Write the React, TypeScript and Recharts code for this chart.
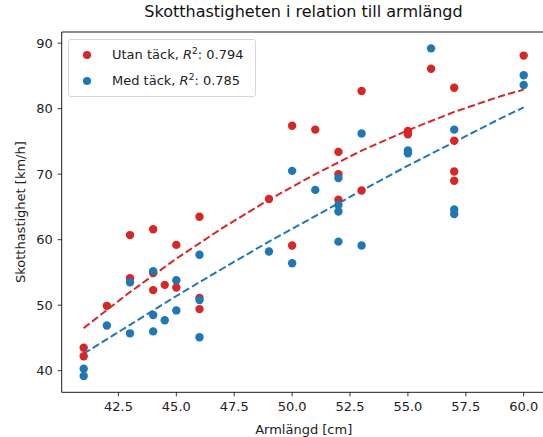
import { ComposedChart, Line, ReferenceArea, Scatter, XAxis, YAxis } from "recharts";

// Utan täck (red)
const utanX = [41, 41, 42, 43, 43, 44, 44, 44, 44.5, 45, 45, 46, 46, 46, 49, 50, 50, 51, 52, 52, 52, 53, 53, 55, 55, 56, 57, 57, 57, 57, 60];
const utanY = [43.5, 42.2, 49.9, 60.7, 54.1, 61.6, 54.9, 52.3, 53.1, 59.2, 52.7, 63.5, 51.1, 49.4, 66.2, 77.4, 59.1, 76.8, 73.4, 70.0, 66.1, 82.7, 67.5, 76.6, 76.1, 86.1, 83.2, 75.1, 70.4, 69.0, 88.1];

// Med täck (blue)
const medX = [41, 41, 42, 43, 43, 44, 44, 44, 44.5, 45, 45, 46, 46, 46, 49, 50, 50, 51, 52, 52, 52, 52, 53, 53, 55, 55, 56, 57, 57, 57, 60, 60];
const medY = [40.3, 39.2, 46.9, 53.5, 45.7, 55.2, 48.5, 46.0, 47.7, 53.8, 49.2, 57.7, 50.8, 45.1, 58.2, 70.5, 56.4, 67.6, 69.4, 65.3, 64.3, 59.7, 76.2, 59.1, 73.6, 73.2, 89.2, 76.8, 64.6, 63.9, 85.1, 83.6];

// fitted trend curves
const fitX = [41, 43, 45, 47, 49, 51, 53, 55, 57, 59, 60];
const utanFit = [46.5, 52.0, 57.1, 61.8, 66.1, 70.0, 73.6, 76.7, 79.5, 81.9, 82.9];
const medFit = [42.6, 47.0, 51.4, 55.6, 59.7, 63.6, 67.5, 71.3, 74.9, 78.5, 80.2];

const xTicks = [42.5, 45, 47.5, 50, 52.5, 55, 57.5, 60];
const yTicks = [40, 50, 60, 70, 80, 90];
const xDomain = [40.05, 60.95];
const yDomain = [36.7, 91.7];

const RED = "#d62728";
const BLUE = "#1f77b4";
const FONT = "'DejaVu Sans', sans-serif";

const zip = (xs: number[], ys: number[]) => xs.map((x, i) => ({ x, y: ys[i] }));

const dot = (color: string) => (props: any) => (
    <circle cx={props.cx} cy={props.cy} r={4.2} fill={color} />
);

export default function App() {
    const tickStyle = { fontSize: 13, fill: "#222", fontFamily: FONT };
    return (
        <div style={{ position: "absolute", left: 0, top: 0, width: 543, height: 437, overflow: "hidden", background: "#fff" }}>
            <ComposedChart
                width={548}
                height={437}
                margin={{ top: 32, right: 2.3, left: 0, bottom: 0 }}
                style={{ fontFamily: FONT }}
            >
                <XAxis
                    type="number"
                    dataKey="x"
                    domain={xDomain}
                    allowDataOverflow
                    ticks={xTicks}
                    tickFormatter={(v: number) => v.toFixed(1)}
                    height={44.7}
                    tickSize={4}
                    tickMargin={5}
                    tick={tickStyle}
                    tickLine={{ stroke: "#000", strokeWidth: 0.8 }}
                    axisLine={false}
                    label={{ value: "Armlängd [cm]", position: "insideBottom", offset: 3, fontSize: 13, fill: "#222", fontFamily: FONT }}
                />
                <YAxis
                    type="number"
                    domain={yDomain}
                    allowDataOverflow
                    ticks={yTicks}
                    width={61.7}
                    tickSize={4}
                    tickMargin={5}
                    tick={tickStyle}
                    tickLine={{ stroke: "#000", strokeWidth: 0.8 }}
                    axisLine={false}
                    label={(p: any) => {
                        const cy = p.viewBox.y + p.viewBox.height / 2;
                        return (
                            <text x={21} y={cy} transform={`rotate(-90 21 ${cy})`} textAnchor="middle" dominantBaseline="central" fontSize={13} fill="#222" fontFamily={FONT}>
                                Skotthastighet [km/h]
                            </text>
                        );
                    }}
                />
                {/* axes frame */}
                <ReferenceArea
                    x1={xDomain[0]}
                    x2={xDomain[1]}
                    y1={yDomain[0]}
                    y2={yDomain[1]}
                    fill="none"
                    fillOpacity={0}
                    stroke="#000"
                    strokeWidth={0.9}
                    ifOverflow="visible"
                />
                <Scatter data={zip(utanX, utanY)} dataKey="y" shape={dot(RED)} isAnimationActive={false} />
                <Scatter data={zip(medX, medY)} dataKey="y" shape={dot(BLUE)} isAnimationActive={false} />
                <Line data={zip(fitX, utanFit)} dataKey="y" type="linear" dot={false} activeDot={false} stroke={RED} strokeWidth={2} strokeDasharray="7.4 3.2" isAnimationActive={false} />
                <Line data={zip(fitX, medFit)} dataKey="y" type="linear" dot={false} activeDot={false} stroke={BLUE} strokeWidth={2} strokeDasharray="7.4 3.2" isAnimationActive={false} />
            </ComposedChart>
            <div style={{ position: "absolute", left: 0, top: 4, width: 607, textAlign: "center", fontFamily: FONT, fontSize: 16, color: "#111", lineHeight: "16px" }}>
                Skotthastigheten i relation till armlängd
            </div>
            <div
                style={{
                    position: "absolute",
                    left: 68,
                    top: 39,
                    width: 186,
                    height: 56,
                    border: "1px solid #d6d6d6",
                    borderRadius: 3,
                    background: "rgba(255,255,255,0.8)",
                    fontFamily: FONT,
                    fontSize: 13,
                    color: "#222",
                }}
            >
                {[
                    { color: RED, name: "Utan täck", r2: "0.794", top: 7 },
                    { color: BLUE, name: "Med täck", r2: "0.785", top: 33 },
                ].map((e) => (
                    <div key={e.name} style={{ position: "absolute", left: 0, top: e.top, height: 16, lineHeight: "16px", whiteSpace: "nowrap" }}>
                        <span style={{ position: "absolute", left: 14, top: 4, width: 8.4, height: 8.4, borderRadius: "50%", background: e.color }} />
                        <span style={{ position: "absolute", left: 43 }}>
                            {e.name}, <i>R</i>
                            <sup style={{ fontSize: 9, verticalAlign: "5px", lineHeight: 0 }}>2</sup>: {e.r2}
                        </span>
                    </div>
                ))}
            </div>
        </div>
    );
}
